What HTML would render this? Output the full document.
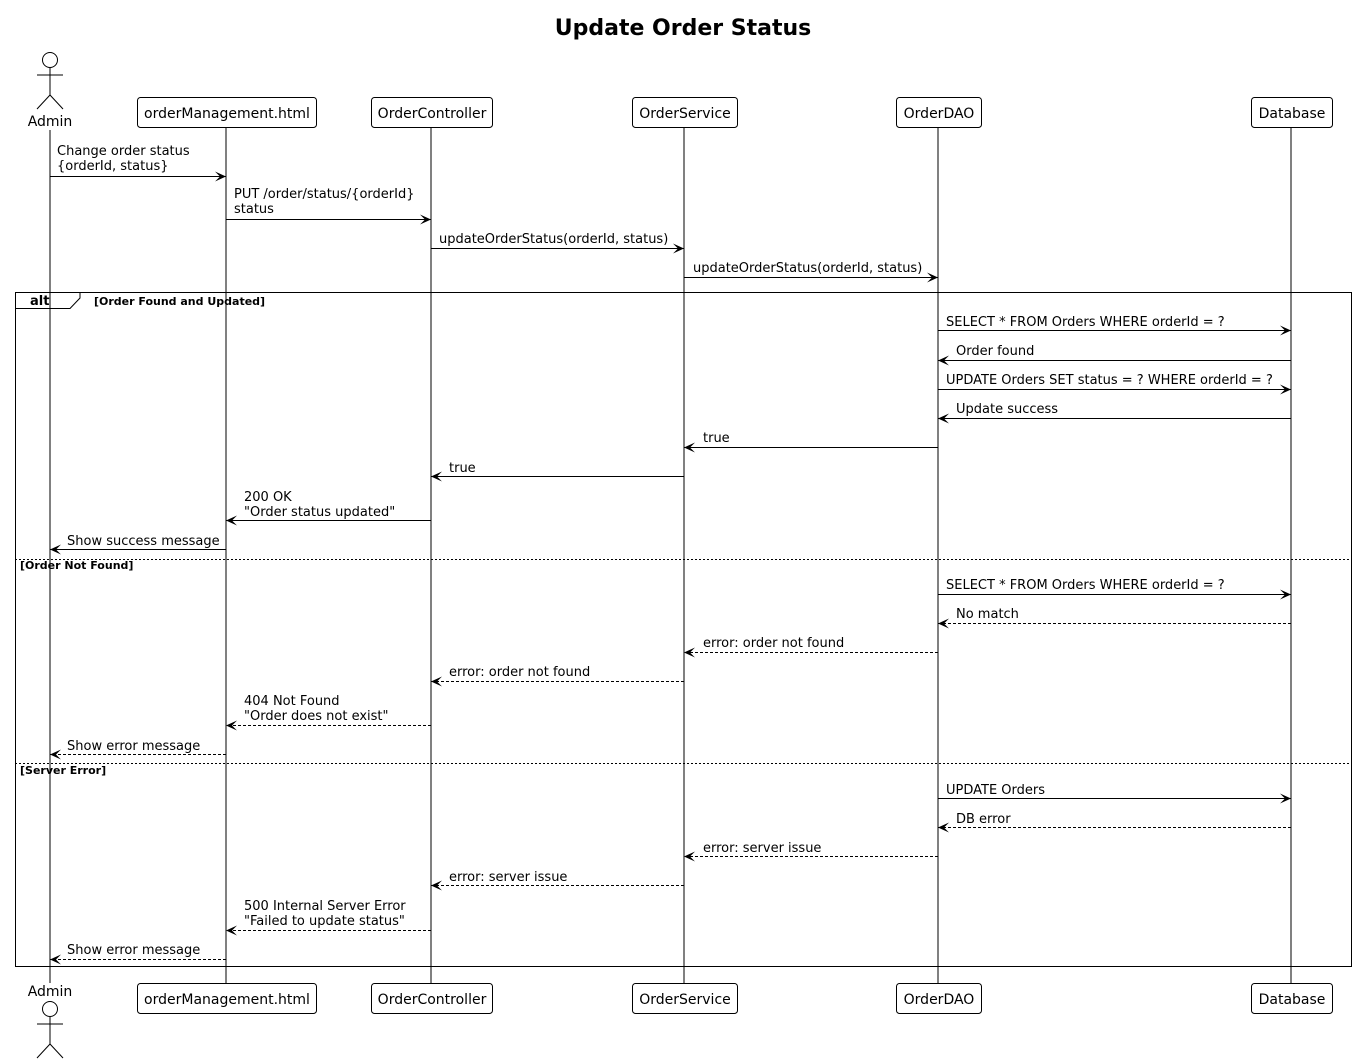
<!DOCTYPE html>
<html><head><meta charset="utf-8"><style>
html,body{margin:0;padding:0;background:#fff}
svg{display:block}
text{font-family:"DejaVu Sans","Liberation Sans",sans-serif;font-size:13px;fill:#000}
.b{font-weight:bold;font-size:11px}
.p{font-size:14px}
</style></head><body>
<svg width="1358" height="1064" viewBox="0 0 1358 1064" xmlns="http://www.w3.org/2000/svg">
<defs>
<marker id="a" viewBox="0 0 11 10" refX="11" refY="5" markerWidth="11" markerHeight="10" orient="auto" markerUnits="userSpaceOnUse"><path d="M0,0 L11,5 L0,10 L5,5 Z" fill="#000" stroke="none"/></marker>
</defs>
<text x="683" y="35" text-anchor="middle" style="font-size:22px;font-weight:bold">Update Order Status</text>
<g stroke="#000" stroke-width="1" fill="none">
<line x1="50" y1="130" x2="50" y2="983"/>
<line x1="226" y1="128" x2="226" y2="983"/>
<line x1="431" y1="128" x2="431" y2="983"/>
<line x1="684" y1="128" x2="684" y2="983"/>
<line x1="938" y1="128" x2="938" y2="983"/>
<line x1="1291" y1="128" x2="1291" y2="983"/>
<circle cx="50" cy="60" r="7.5"/>
<line x1="50" y1="68" x2="50" y2="95"/><line x1="37" y1="75" x2="63" y2="75"/>
<line x1="50" y1="95" x2="37" y2="109"/><line x1="50" y1="95" x2="63" y2="109"/>
<circle cx="50" cy="1009" r="7.5"/>
<line x1="50" y1="1017" x2="50" y2="1044"/><line x1="37" y1="1024" x2="63" y2="1024"/>
<line x1="50" y1="1044" x2="37" y2="1058"/><line x1="50" y1="1044" x2="63" y2="1058"/>
<g fill="#fff">
<rect x="137.5" y="97.5" width="179" height="30" rx="3"/>
<rect x="371.5" y="97.5" width="121" height="30" rx="3"/>
<rect x="632.5" y="97.5" width="105" height="30" rx="3"/>
<rect x="896.5" y="97.5" width="85" height="30" rx="3"/>
<rect x="1251.5" y="97.5" width="81" height="30" rx="3"/>
<rect x="137.5" y="983.5" width="179" height="30" rx="3"/>
<rect x="371.5" y="983.5" width="121" height="30" rx="3"/>
<rect x="632.5" y="983.5" width="105" height="30" rx="3"/>
<rect x="896.5" y="983.5" width="85" height="30" rx="3"/>
<rect x="1251.5" y="983.5" width="81" height="30" rx="3"/>
</g>
<rect x="15.5" y="292.5" width="1336" height="674"/>
<path d="M15.5,308.5 H70 L80,298 V292.5"/>
<line x1="15" y1="559.5" x2="1352" y2="559.5" stroke-dasharray="2,2"/>
<line x1="15" y1="763.5" x2="1352" y2="763.5" stroke-dasharray="2,2"/>
<g marker-end="url(#a)">
<line x1="50" y1="176.5" x2="226" y2="176.5"/>
<line x1="226" y1="219.5" x2="431" y2="219.5"/>
<line x1="431" y1="248.5" x2="684" y2="248.5"/>
<line x1="684" y1="277.5" x2="938" y2="277.5"/>
<line x1="938" y1="330.5" x2="1291" y2="330.5"/>
<line x1="1291" y1="360.5" x2="938" y2="360.5"/>
<line x1="938" y1="389.5" x2="1291" y2="389.5"/>
<line x1="1291" y1="418.5" x2="938" y2="418.5"/>
<line x1="938" y1="447.5" x2="684" y2="447.5"/>
<line x1="684" y1="476.5" x2="431" y2="476.5"/>
<line x1="431" y1="520.5" x2="226" y2="520.5"/>
<line x1="226" y1="549.5" x2="50" y2="549.5"/>
<line x1="938" y1="594.5" x2="1291" y2="594.5"/>
<line x1="938" y1="798.5" x2="1291" y2="798.5"/>
</g>
<g marker-end="url(#a)" stroke-dasharray="3,2">
<line x1="1291" y1="623.5" x2="938" y2="623.5"/>
<line x1="938" y1="652.5" x2="684" y2="652.5"/>
<line x1="684" y1="681.5" x2="431" y2="681.5"/>
<line x1="431" y1="725.5" x2="226" y2="725.5"/>
<line x1="226" y1="754.5" x2="50" y2="754.5"/>
<line x1="1291" y1="827.5" x2="938" y2="827.5"/>
<line x1="938" y1="856.5" x2="684" y2="856.5"/>
<line x1="684" y1="885.5" x2="431" y2="885.5"/>
<line x1="431" y1="930.5" x2="226" y2="930.5"/>
<line x1="226" y1="959.5" x2="50" y2="959.5"/>
</g>
</g>
<text x="50" y="126" text-anchor="middle" class="p">Admin</text>
<text x="50" y="996" text-anchor="middle" class="p">Admin</text>
<g text-anchor="middle" class="p">
<text x="227" y="118" class="p">orderManagement.html</text>
<text x="432" y="118" class="p">OrderController</text>
<text x="685" y="118" class="p">OrderService</text>
<text x="939" y="118" class="p">OrderDAO</text>
<text x="1292" y="118" class="p">Database</text>
<text x="227" y="1004" class="p">orderManagement.html</text>
<text x="432" y="1004" class="p">OrderController</text>
<text x="685" y="1004" class="p">OrderService</text>
<text x="939" y="1004" class="p">OrderDAO</text>
<text x="1292" y="1004" class="p">Database</text>
</g>
<text x="30" y="305" style="font-weight:bold;font-size:13px">alt</text>
<text x="94" y="305" class="b">[Order Found and Updated]</text>
<text x="20" y="569" class="b">[Order Not Found]</text>
<text x="20" y="774" class="b">[Server Error]</text>
<text x="57" y="155">Change order status</text>
<text x="57" y="170">{orderId, status}</text>
<text x="234" y="198">PUT /order/status/{orderId}</text>
<text x="234" y="213">status</text>
<text x="439" y="243">updateOrderStatus(orderId, status)</text>
<text x="693" y="272">updateOrderStatus(orderId, status)</text>
<text x="946" y="326">SELECT * FROM Orders WHERE orderId = ?</text>
<text x="956" y="355">Order found</text>
<text x="946" y="384">UPDATE Orders SET status = ? WHERE orderId = ?</text>
<text x="956" y="413">Update success</text>
<text x="703" y="442">true</text>
<text x="449" y="472">true</text>
<text x="244" y="501">200 OK</text>
<text x="244" y="516">"Order status updated"</text>
<text x="67" y="545">Show success message</text>
<text x="946" y="589">SELECT * FROM Orders WHERE orderId = ?</text>
<text x="956" y="618">No match</text>
<text x="703" y="647">error: order not found</text>
<text x="449" y="676">error: order not found</text>
<text x="244" y="705">404 Not Found</text>
<text x="244" y="720">"Order does not exist"</text>
<text x="67" y="750">Show error message</text>
<text x="946" y="794">UPDATE Orders</text>
<text x="956" y="823">DB error</text>
<text x="703" y="852">error: server issue</text>
<text x="449" y="881">error: server issue</text>
<text x="244" y="910">500 Internal Server Error</text>
<text x="244" y="925">"Failed to update status"</text>
<text x="67" y="954">Show error message</text>
</svg>
</body></html>
